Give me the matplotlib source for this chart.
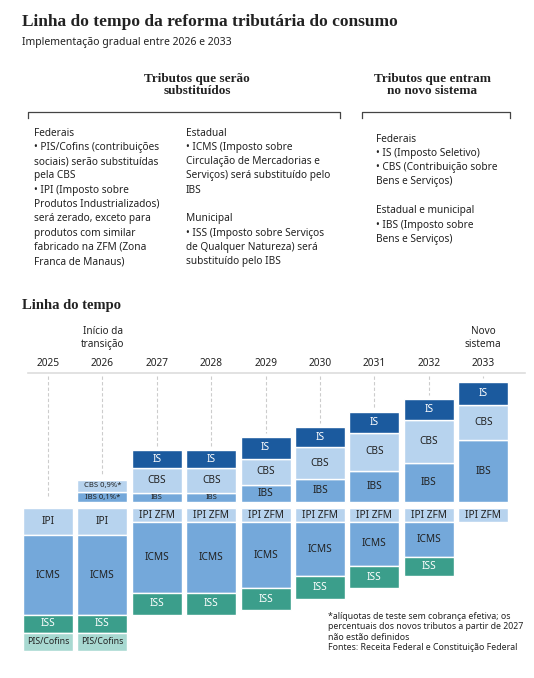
import matplotlib.pyplot as plt

# Data (segment heights)
years = ["2025", "2026", "2027", "2028", "2029", "2030", "2031", "2032", "2033"]

# new taxes, stacked upward
ibs = [0, 10, 9, 9, 17, 23, 31, 39, 62]
cbs = [0, 12, 25, 25, 26, 32, 38, 43, 35]
is_ = [0, 0, 18, 18, 22, 20, 21, 21, 23]

# old taxes, stacked downward
ipi = [27, 27, 14, 14, 14, 14, 14, 14, 14]
icms = [80, 80, 71, 71, 66, 54, 44, 35, 0]
iss = [18, 18, 22, 22, 22, 23, 22, 19, 0]
pis = [18, 18, 0, 0, 0, 0, 0, 0, 0]

ipi_labels = ["IPI", "IPI"] + ["IPI ZFM"] * 7
up_labels_2026 = ["IBS 0,1%*", "CBS 0,9%*"]

C_DARK = "#1b5a9e"
C_LIGHT = "#b7d3ee"
C_MID = "#74a8da"
C_TEAL = "#3b9e8b"
C_PALE = "#a8d9d1"
INK = "#222222"

plt.rcParams['font.family'] = ['Noto Sans', 'DejaVu Sans']

fig = plt.figure(figsize=(5.34, 6.78), dpi=100)
ax = fig.add_axes([0, 0, 1, 1])
ax.set_xlim(0, 534)
ax.set_ylim(678, 0)
ax.axis("off")

serif = "Liberation Serif"

# Header texts
ax.text(22, 22, "Linha do tempo da reforma tributária do consumo", family=serif,
        weight="bold", fontsize=12.5, va="center", color=INK)
ax.text(22, 42, "Implementação gradual entre 2026 e 2033", fontsize=7.5, va="center", color=INK)

ax.text(197, 85, "Tributos que serão\nsubstituídos", family=serif, weight="bold",
        fontsize=9.5, ha="center", va="center", linespacing=1.1, color=INK)
ax.text(432, 85, "Tributos que entram\nno novo sistema", family=serif, weight="bold",
        fontsize=9.5, ha="center", va="center", linespacing=1.1, color=INK)

for x0, x1 in [(28, 340), (362, 510)]:
    ax.plot([x0, x0, x1, x1], [118, 112, 112, 118], color="#444444", lw=0.9)

def block(x, y, lines, bold_idx=(), step=14.3):
    for k, line in enumerate(lines):
        ax.text(x, y + k * step, line, fontsize=7.3, va="center", color=INK,
                weight="bold" if k in bold_idx else "normal")

block(34, 133, ["Federais", "• PIS/Cofins (contribuições", "sociais) serão substituídas",
                "pela CBS", "• IPI (Imposto sobre", "Produtos Industrializados)",
                "será zerado, exceto para", "produtos com similar",
                "fabricado na ZFM (Zona", "Franca de Manaus)"], bold_idx=(0,))
block(186, 133, ["Estadual", "• ICMS (Imposto sobre", "Circulação de Mercadorias e",
                 "Serviços) será substituído pelo", "IBS"], bold_idx=(0,))
block(186, 219, ["Municipal", "• ISS (Imposto sobre Serviços",
                 "de Qualquer Natureza) será", "substituído pelo IBS"], bold_idx=(0,))
block(376, 139, ["Federais", "• IS (Imposto Seletivo)", "• CBS (Contribuição sobre",
                 "Bens e Serviços)"], bold_idx=(0,))
block(376, 211, ["Estadual e municipal", "• IBS (Imposto sobre", "Bens e Serviços)"],
      bold_idx=(0,))

ax.text(22, 305, "Linha do tempo", family=serif, weight="bold", fontsize=10.5,
        va="center", color=INK)

# Timeline
w = 50
base_up = 502
base_dn = 508
ax.plot([28, 525], [373, 373], color="#dddddd", lw=1.2)
ax.text(103, 338, "Início da\ntransição", fontsize=7.2, ha="center", va="center",
        linespacing=1.3, color=INK)
ax.text(483, 338, "Novo\nsistema", fontsize=7.2, ha="center", va="center",
        linespacing=1.3, color=INK)

def seg(x, bottom, h, color, label, tcolor=INK, bold=False, fs=7.3):
    if h <= 0:
        return
    ax.bar(x, -h, bottom=bottom, width=w, color=color, edgecolor="white", linewidth=1)
    if label:
        ax.text(x, bottom - h / 2, label, ha="center", va="center", fontsize=fs,
                color=tcolor, weight="bold" if bold else "normal")

def seg_dn(x, top, h, color, label, tcolor=INK, bold=False, fs=7.3):
    if h <= 0:
        return
    ax.bar(x, h, bottom=top, width=w, color=color, edgecolor="white", linewidth=1)
    if label:
        ax.text(x, top + h / 2, label, ha="center", va="center", fontsize=fs,
                color=tcolor, weight="bold" if bold else "normal")

for i, yr in enumerate(years):
    x = 48 + 54.4 * i
    ax.text(x, 363, yr, ha="center", va="center", fontsize=7.3, color=INK)
    top_up = base_up - ibs[i] - cbs[i] - is_[i]
    ax.plot([x, x], [376, (top_up if top_up < base_up else base_up) - 4],
            color="#cccccc", lw=0.8, ls=(0, (3, 2)))

    y = base_up
    if i == 1:
        seg(x, y, ibs[i], C_MID, up_labels_2026[0], fs=5.5)
        y -= ibs[i]
        seg(x, y, cbs[i], C_LIGHT, up_labels_2026[1], fs=5.5)
    else:
        seg(x, y, ibs[i], C_MID, "IBS", fs=7.3 if ibs[i] > 14 else 5.5)
        y -= ibs[i]
        seg(x, y, cbs[i], C_LIGHT, "CBS")
        y -= cbs[i]
        seg(x, y, is_[i], C_DARK, "IS", tcolor="white", bold=True)

    y = base_dn
    seg_dn(x, y, ipi[i], C_LIGHT, ipi_labels[i])
    y += ipi[i]
    seg_dn(x, y, icms[i], C_MID, "ICMS")
    y += icms[i]
    seg_dn(x, y, iss[i], C_TEAL, "ISS", tcolor="white", bold=True)
    y += iss[i]
    seg_dn(x, y, pis[i], C_PALE, "PIS/Cofins", fs=6.3)

ax.text(328, 632, "*alíquotas de teste sem cobrança efetiva; os\n"
        "percentuais dos novos tributos a partir de 2027\n"
        "não estão definidos\n"
        "Fontes: Receita Federal e Constituição Federal",
        fontsize=6.3, va="center", linespacing=1.2, color=INK)

fig.savefig("out.png", dpi=100)
